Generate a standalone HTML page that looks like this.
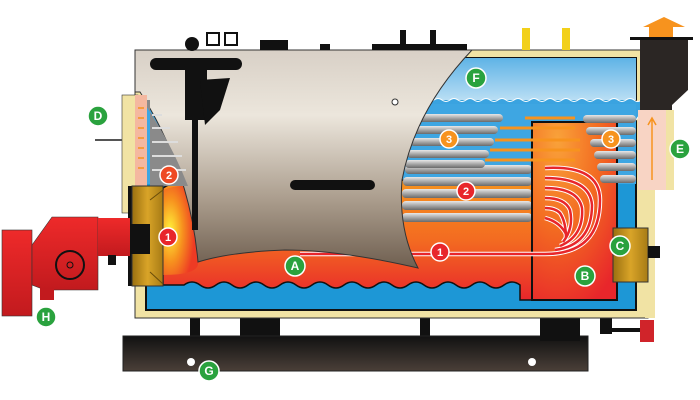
<!DOCTYPE html>
<html><head><meta charset="utf-8"><style>
html,body{margin:0;padding:0;background:#fff;width:700px;height:400px;overflow:hidden}
text{font-family:"Liberation Sans",sans-serif;font-weight:bold}
</style></head><body>
<svg width="700" height="400" viewBox="0 0 700 400" xmlns="http://www.w3.org/2000/svg">
<defs>
<linearGradient id="shell" x1="0" y1="0" x2="0" y2="1">
<stop offset="0" stop-color="#d8d0c6"/><stop offset="0.3" stop-color="#ece6dc"/><stop offset="0.7" stop-color="#a89a8a"/><stop offset="1" stop-color="#6f5f50"/></linearGradient>
<linearGradient id="steam" x1="0" y1="0" x2="0" y2="1"><stop offset="0" stop-color="#5fb3e6"/><stop offset="1" stop-color="#b9def4"/></linearGradient>
<linearGradient id="fire" x1="0" y1="0" x2="0" y2="1"><stop offset="0" stop-color="#f7931e"/><stop offset="0.5" stop-color="#f36b21"/><stop offset="1" stop-color="#e8262b"/></linearGradient>
<radialGradient id="flame" cx="0.2" cy="0.5" r="0.7"><stop offset="0" stop-color="#fff23a"/><stop offset="0.5" stop-color="#f7931e"/><stop offset="1" stop-color="#ee3b24"/></radialGradient>
<radialGradient id="cham" cx="0.3" cy="0.1" r="1"><stop offset="0" stop-color="#f9a23a"/><stop offset="0.5" stop-color="#f36b21"/><stop offset="1" stop-color="#e8262b"/></radialGradient>
<linearGradient id="tube" x1="0" y1="0" x2="0" y2="1"><stop offset="0" stop-color="#e8e8e8"/><stop offset="0.5" stop-color="#a8a8a8"/><stop offset="1" stop-color="#6a6a6a"/></linearGradient>
<linearGradient id="base" x1="0" y1="0" x2="0" y2="1"><stop offset="0" stop-color="#111"/><stop offset="1" stop-color="#4a3f38"/></linearGradient>
<linearGradient id="gold" x1="0" y1="0" x2="1" y2="0"><stop offset="0" stop-color="#9a6f10"/><stop offset="0.5" stop-color="#d9a428"/><stop offset="1" stop-color="#a77b15"/></linearGradient>
<linearGradient id="red" x1="0" y1="0" x2="0" y2="1"><stop offset="0" stop-color="#ee2a2a"/><stop offset="1" stop-color="#c21a1e"/></linearGradient>
</defs>

<!-- base -->
<rect x="190" y="316" width="10" height="22" fill="#111"/>
<rect x="420" y="316" width="10" height="22" fill="#111"/>
<rect x="600" y="316" width="12" height="18" fill="#111"/>
<rect x="240" y="298" width="40" height="40" fill="#111"/>
<rect x="123" y="336" width="465" height="35" fill="url(#base)" stroke="#222"/>
<rect x="540" y="316" width="40" height="25" fill="#111"/>
<rect x="600" y="328" width="40" height="4" fill="#111"/>
<rect x="640" y="320" width="14" height="22" fill="#d0242a"/>
<circle cx="191" cy="362" r="4" fill="#fff"/><circle cx="532" cy="362" r="4" fill="#fff"/>

<!-- outer insulation -->
<rect x="135" y="50" width="513" height="268" fill="#f1e3a4" stroke="#333" stroke-width="1"/>
<rect x="645" y="190" width="10" height="128" fill="#f1e3a4"/>
<rect x="122" y="95" width="16" height="118" fill="#f1e3a4" stroke="#333" stroke-width="0.6"/>
<!-- water -->
<rect x="146" y="58" width="490" height="252" fill="#1d97d6" stroke="#111" stroke-width="2"/>
<rect x="146" y="58" width="490" height="42" fill="url(#steam)"/>
<path d="M146 100 q4 -3 8 0 t8 0 t8 0 t8 0 t8 0 t8 0 t8 0 t8 0 t8 0 t8 0 t8 0 t8 0 t8 0 t8 0 t8 0 t8 0 t8 0 t8 0 t8 0 t8 0 t8 0 t8 0 t8 0 t8 0 t8 0 t8 0 t8 0 t8 0 t8 0 t8 0 t8 0 t8 0 t8 0 t8 0 t8 0 t8 0 t8 0 t8 0 t8 0 t8 0 t8 0 t8 0 t8 0 t8 0 t8 0 t8 0 t8 0 t8 0 t8 0 t8 0 t8 0 t8 0 t8 0 t8 0 t8 0 t8 0 t8 0 t8 0 t8 0 t8 0 t8 0 t8 0 t8 0 L636 120 L146 120Z" fill="#3aa3e0" stroke="#fff" stroke-width="1"/>
<rect x="146" y="104" width="490" height="80" fill="#3ea6e2"/>

<!-- fire region -->
<path d="M163 188 Q178 178 192 186 L405 180 L532 180 L532 300 L520 300 L520 285 q-8 -6 -16 0 t-16 0 t-16 0 t-16 0 t-16 0 t-16 0 t-16 0 t-16 0 t-16 0 t-16 0 t-16 0 t-16 0 t-16 0 t-16 0 t-16 0 t-16 0 t-16 0 t-16 0 t-16 0 t-16 0 t-16 0 L163 285Z" fill="url(#fire)" stroke="#111" stroke-width="1.5"/>
<path d="M163 190 Q185 182 192 190 L198 262 Q200 275 163 275Z" fill="url(#flame)"/>
<!-- lower tube bank -->
<g>
<rect x="405" y="165" width="127" height="9" rx="4" fill="url(#tube)"/>
<rect x="403" y="177" width="129" height="9" rx="4" fill="url(#tube)"/>
<rect x="402" y="189" width="130" height="9" rx="4" fill="url(#tube)"/>
<rect x="402" y="201" width="130" height="9" rx="4" fill="url(#tube)"/>
<rect x="402" y="213" width="130" height="9" rx="4" fill="url(#tube)"/>
</g>
<!-- upper tubes left -->
<g fill="url(#tube)">
<rect x="415" y="114" width="88" height="8" rx="4"/>
<rect x="412" y="126" width="86" height="8" rx="4"/>
<rect x="410" y="138" width="84" height="8" rx="4"/>
<rect x="407" y="150" width="82" height="8" rx="4"/>
<rect x="405" y="160" width="80" height="8" rx="4"/>
</g>
<!-- chamber B -->
<rect x="532" y="122" width="85" height="178" fill="url(#cham)" stroke="#111" stroke-width="2"/>
<!-- right tubes -->
<g fill="url(#tube)">
<rect x="583" y="115" width="53" height="8" rx="4"/>
<rect x="586" y="127" width="50" height="8" rx="4"/>
<rect x="590" y="139" width="46" height="8" rx="4"/>
<rect x="594" y="151" width="42" height="8" rx="4"/>
<rect x="597" y="163" width="39" height="8" rx="4"/>
<rect x="600" y="175" width="36" height="8" rx="4"/>
</g>
<!-- arrows 3 -->
<g stroke="#f7931e" stroke-width="3" fill="none">
<path d="M525 118 H575"/><path d="M500 128 H575"/><path d="M495 140 H580"/><path d="M490 150 H580"/><path d="M485 160 H575"/>
</g>
<!-- arcs -->
<g stroke="#fff" stroke-width="4.5" fill="none">
<path d="M300 254 H545 Q600 254 600 200 Q600 165 545 168"/>
<path d="M555 250 Q592 245 592 205 Q590 178 545 178"/>
<path d="M560 246 Q584 236 582 208 Q578 188 545 188"/>
<path d="M563 242 Q574 228 570 210 Q565 198 545 198"/>
<path d="M566 238 Q566 222 560 213 Q555 208 545 208"/>
<path d="M566 234 Q560 222 545 218"/>
</g>
<g stroke="#e8262b" stroke-width="2.5" fill="none">
<path d="M300 254 H545 Q600 254 600 200 Q600 165 545 168"/>
<path d="M555 250 Q592 245 592 205 Q590 178 545 178"/>
<path d="M560 246 Q584 236 582 208 Q578 188 545 188"/>
<path d="M563 242 Q574 228 570 210 Q565 198 545 198"/>
<path d="M566 238 Q566 222 560 213 Q555 208 545 208"/>
<path d="M566 234 Q560 222 545 218"/>
</g>
<!-- shell cutaway -->
<path d="M135 50 H472 Q415 110 402 180 Q398 230 418 268 Q340 250 285 250 Q230 252 198 262 Q190 170 140 92 L135 92Z" fill="url(#shell)" stroke="#333" stroke-width="1"/>
<!-- left tube bank -->
<path d="M142 100 Q170 140 188 186 L150 186 L150 100Z" fill="#8a8a8a"/>
<g stroke="#ddd" stroke-width="2"><path d="M152 115 H162"/><path d="M152 128 H170"/><path d="M152 142 H178"/><path d="M152 156 H182"/><path d="M152 170 H186"/></g>
<rect x="135" y="95" width="12" height="92" fill="#f4b8a0"/>
<path d="M138 108 h6 M138 118 h6 M138 128 h6 M138 138 h6 M138 148 h6 M138 158 h6 M138 168 h6" stroke="#f7931e" stroke-width="1.5"/>
<!-- top fittings -->
<rect x="260" y="40" width="28" height="10" fill="#111"/><rect x="320" y="44" width="10" height="6" fill="#111"/>
<rect x="372" y="44" width="95" height="6" fill="#111"/><rect x="400" y="30" width="6" height="14" fill="#111"/><rect x="430" y="30" width="6" height="14" fill="#111"/>
<rect x="522" y="28" width="8" height="22" fill="#f2d01a"/><rect x="562" y="28" width="8" height="22" fill="#f2d01a"/>
<!-- control column -->
<g fill="#111">
<circle cx="192" cy="44" r="7"/><rect x="150" y="58" width="92" height="12" rx="6"/>
<rect x="185" y="70" width="22" height="50"/><path d="M200 80 L230 78 L220 110 L205 125Z"/>
<rect x="192" y="120" width="6" height="110"/>
<rect x="290" y="180" width="85" height="10" rx="5"/>
</g>
<rect x="207" y="33" width="12" height="12" fill="#fff" stroke="#111" stroke-width="2"/>
<rect x="225" y="33" width="12" height="12" fill="#fff" stroke="#111" stroke-width="2"/>
<circle cx="395" cy="102" r="3" fill="#fff" stroke="#333"/>
<!-- chimney & smoke box -->
<path d="M640 40 H688 V90 L672 105 V110 H640Z" fill="#2b2624"/>
<rect x="630" y="37" width="63" height="3" fill="#111"/>
<path d="M649 37 V27 H643 L664 17 L685 27 H673 V37Z" fill="#f7931e"/>
<rect x="638" y="110" width="28" height="80" fill="#f8d4c4"/><rect x="666" y="110" width="8" height="80" fill="#f1e3a4"/>
<path d="M652 180 V118 M648 125 L652 118 L656 125" stroke="#f7931e" stroke-width="1.5" fill="none"/>
<!-- C nozzle -->
<path d="M613 228 H648 V282 H613Z" fill="url(#gold)" stroke="#333"/><rect x="648" y="246" width="12" height="12" fill="#111"/>
<!-- front door -->
<rect x="128" y="186" width="22" height="100" fill="#111"/>
<path d="M132 186 H163 V286 H132Z" fill="url(#gold)" stroke="#333"/>
<path d="M150 200 L163 190 M150 272 L163 284" stroke="#6a4d0a"/>
<rect x="122" y="224" width="28" height="30" fill="#111"/>
<!-- burner -->
<rect x="2" y="230" width="30" height="86" fill="url(#red)" stroke="#333" stroke-width="0.6"/>
<path d="M32 245 L52 217 H98 V290 H45 L32 285Z" fill="url(#red)" stroke="#333" stroke-width="0.6"/>
<rect x="98" y="218" width="32" height="38" fill="url(#red)"/>
<circle cx="70" cy="265" r="14" fill="none" stroke="#111" stroke-width="2"/><circle cx="70" cy="265" r="3" fill="none" stroke="#111"/>
<rect x="40" y="288" width="14" height="12" fill="#c21a1e"/>
<rect x="108" y="255" width="8" height="10" fill="#111"/>
<!-- D bolt -->
<path d="M95 140 H122" stroke="#555" stroke-width="2"/>
<!-- labels -->
<g font-size="12" text-anchor="middle">
<g fill="#2aa23e" stroke="#fff" stroke-width="1.5">
<circle cx="295" cy="266" r="10"/><circle cx="585" cy="276" r="10"/><circle cx="620" cy="246" r="10"/>
<circle cx="98" cy="116" r="10"/><circle cx="680" cy="149" r="10"/><circle cx="476" cy="78" r="10"/>
<circle cx="209" cy="371" r="10"/><circle cx="46" cy="317" r="10"/></g>
<g fill="#fff"><text x="295" y="270">A</text><text x="585" y="280">B</text><text x="620" y="250">C</text><text x="98" y="120">D</text><text x="680" y="153">E</text><text x="476" y="82">F</text><text x="209" y="375">G</text><text x="46" y="321">H</text></g>
<g stroke="#fff" stroke-width="1.5"><circle cx="168" cy="237" r="9" fill="#e8262b"/><circle cx="440" cy="252" r="9" fill="#e8262b"/><circle cx="169" cy="175" r="9" fill="#ee4a24"/><circle cx="466" cy="191" r="9" fill="#e8262b"/><circle cx="449" cy="139" r="9" fill="#f7931e"/><circle cx="611" cy="139" r="9" fill="#f7931e"/></g>
<g fill="#fff" font-size="11"><text x="168" y="241">1</text><text x="440" y="256">1</text><text x="169" y="179">2</text><text x="466" y="195">2</text><text x="449" y="143">3</text><text x="611" y="143">3</text></g>
</g>
</svg>
</body></html>
